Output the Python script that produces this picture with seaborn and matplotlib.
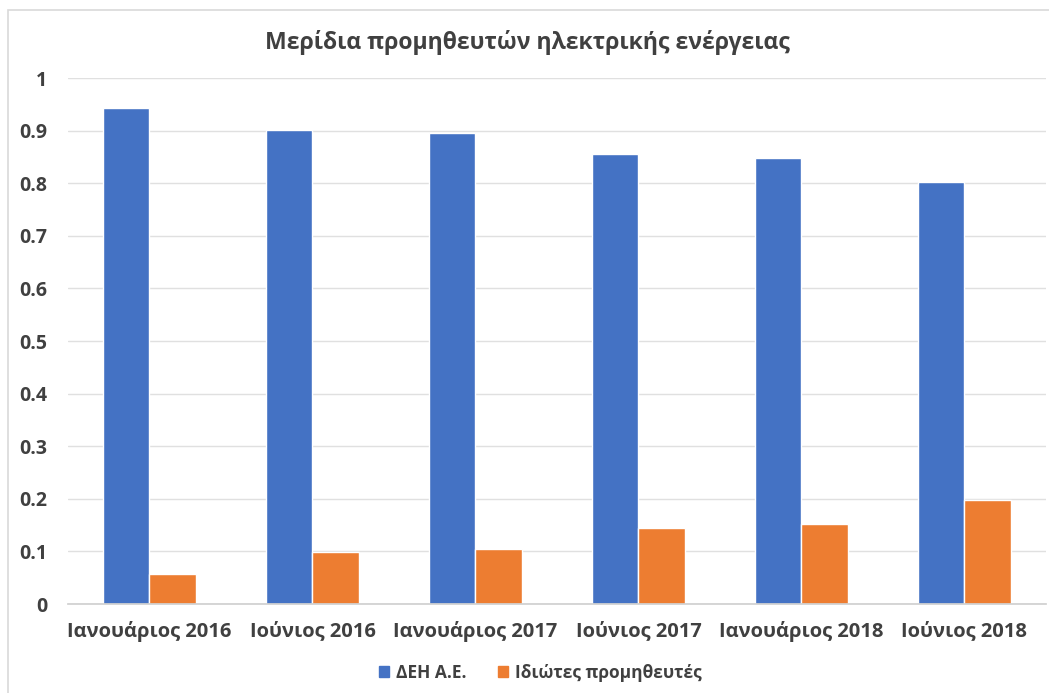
import pandas as pd
import numpy as np
import matplotlib
matplotlib.use("Agg")
import matplotlib.pyplot as plt
import seaborn as sns
from matplotlib.patches import Rectangle

sns.set_theme(style="white")
plt.rcParams['font.family'] = ['Open Sans', 'DejaVu Sans']

# data
periods = ["Ιανουάριος 2016", "Ιούνιος 2016", "Ιανουάριος 2017",
           "Ιούνιος 2017", "Ιανουάριος 2018", "Ιούνιος 2018"]
dei_share = [0.943, 0.901, 0.895, 0.855, 0.848, 0.803]
private_share = [0.057, 0.099, 0.105, 0.145, 0.152, 0.197]
series_names = ["ΔΕΗ Α.Ε.", "Ιδιώτες προμηθευτές"]
y_ticks = [0, 0.1, 0.2, 0.3, 0.4, 0.5, 0.6, 0.7, 0.8, 0.9, 1]
y_labels = ["0", "0.1", "0.2", "0.3", "0.4", "0.5", "0.6", "0.7", "0.8", "0.9", "1"]

df = pd.DataFrame({
    "period": periods * 2,
    "share": dei_share + private_share,
    "supplier": [series_names[0]] * len(periods) + [series_names[1]] * len(periods),
})

txt = "#404040"
fig = plt.figure(figsize=(10.49, 6.93), dpi=100)
ax = fig.add_axes([0.0648, 0.1284, 0.9322, 0.759])

# chart frame like the spreadsheet chart area
fig.patches.append(Rectangle((8 / 1049, -0.05), 1.0, 1 - 10 / 693 + 0.05,
                             transform=fig.transFigure, fill=False,
                             edgecolor="#d9d9d9", linewidth=1.2))

sns.barplot(data=df, x="period", y="share", hue="supplier", order=periods,
            hue_order=series_names, palette=["#4472C4", "#ED7D31"],
            width=0.57, saturation=1, ax=ax, legend=False)

ax.set_ylim(0, 1)
ax.set_xlim(-0.5, len(periods) - 0.5)
ax.set_yticks(y_ticks)
ax.set_yticklabels(y_labels, fontsize=14, fontweight="bold", color=txt)
ax.yaxis.grid(True, color="#e0e0e0", linewidth=1)
ax.set_axisbelow(True)
for s in ["top", "right", "left"]:
    ax.spines[s].set_visible(False)
ax.spines["bottom"].set_color("#d0d0d0")
ax.tick_params(axis="y", length=0, pad=15)

ax.set_xticks(np.arange(len(periods)))
ax.set_xticklabels(periods, fontsize=14.5, fontweight="bold", color=txt)
ax.tick_params(axis="x", length=0, pad=12)
ax.set_xticks(np.arange(len(periods) + 1) - 0.5, minor=True)
ax.tick_params(axis="x", which="minor", length=6, color="#d0d0d0", width=1)
ax.set_xlabel("")
ax.set_ylabel("")

fig.text(0.5025, 0.939, "Μερίδια προμηθευτών ηλεκτρικής ενέργειας",
         ha="center", va="center", fontsize=16.6, fontweight="bold", color=txt)

handles = [Rectangle((0, 0), 1, 1, color=c) for c in ["#4472C4", "#ED7D31"]]
fig.legend(handles, series_names, loc="center", bbox_to_anchor=(0.515, 0.029),
           ncol=2, frameon=False, handlelength=0.6, handleheight=0.6,
           columnspacing=1.8, handletextpad=0.4,
           prop={"size": 12.5, "weight": "bold"}, labelcolor=txt)

fig.savefig("out.png", dpi=100)
